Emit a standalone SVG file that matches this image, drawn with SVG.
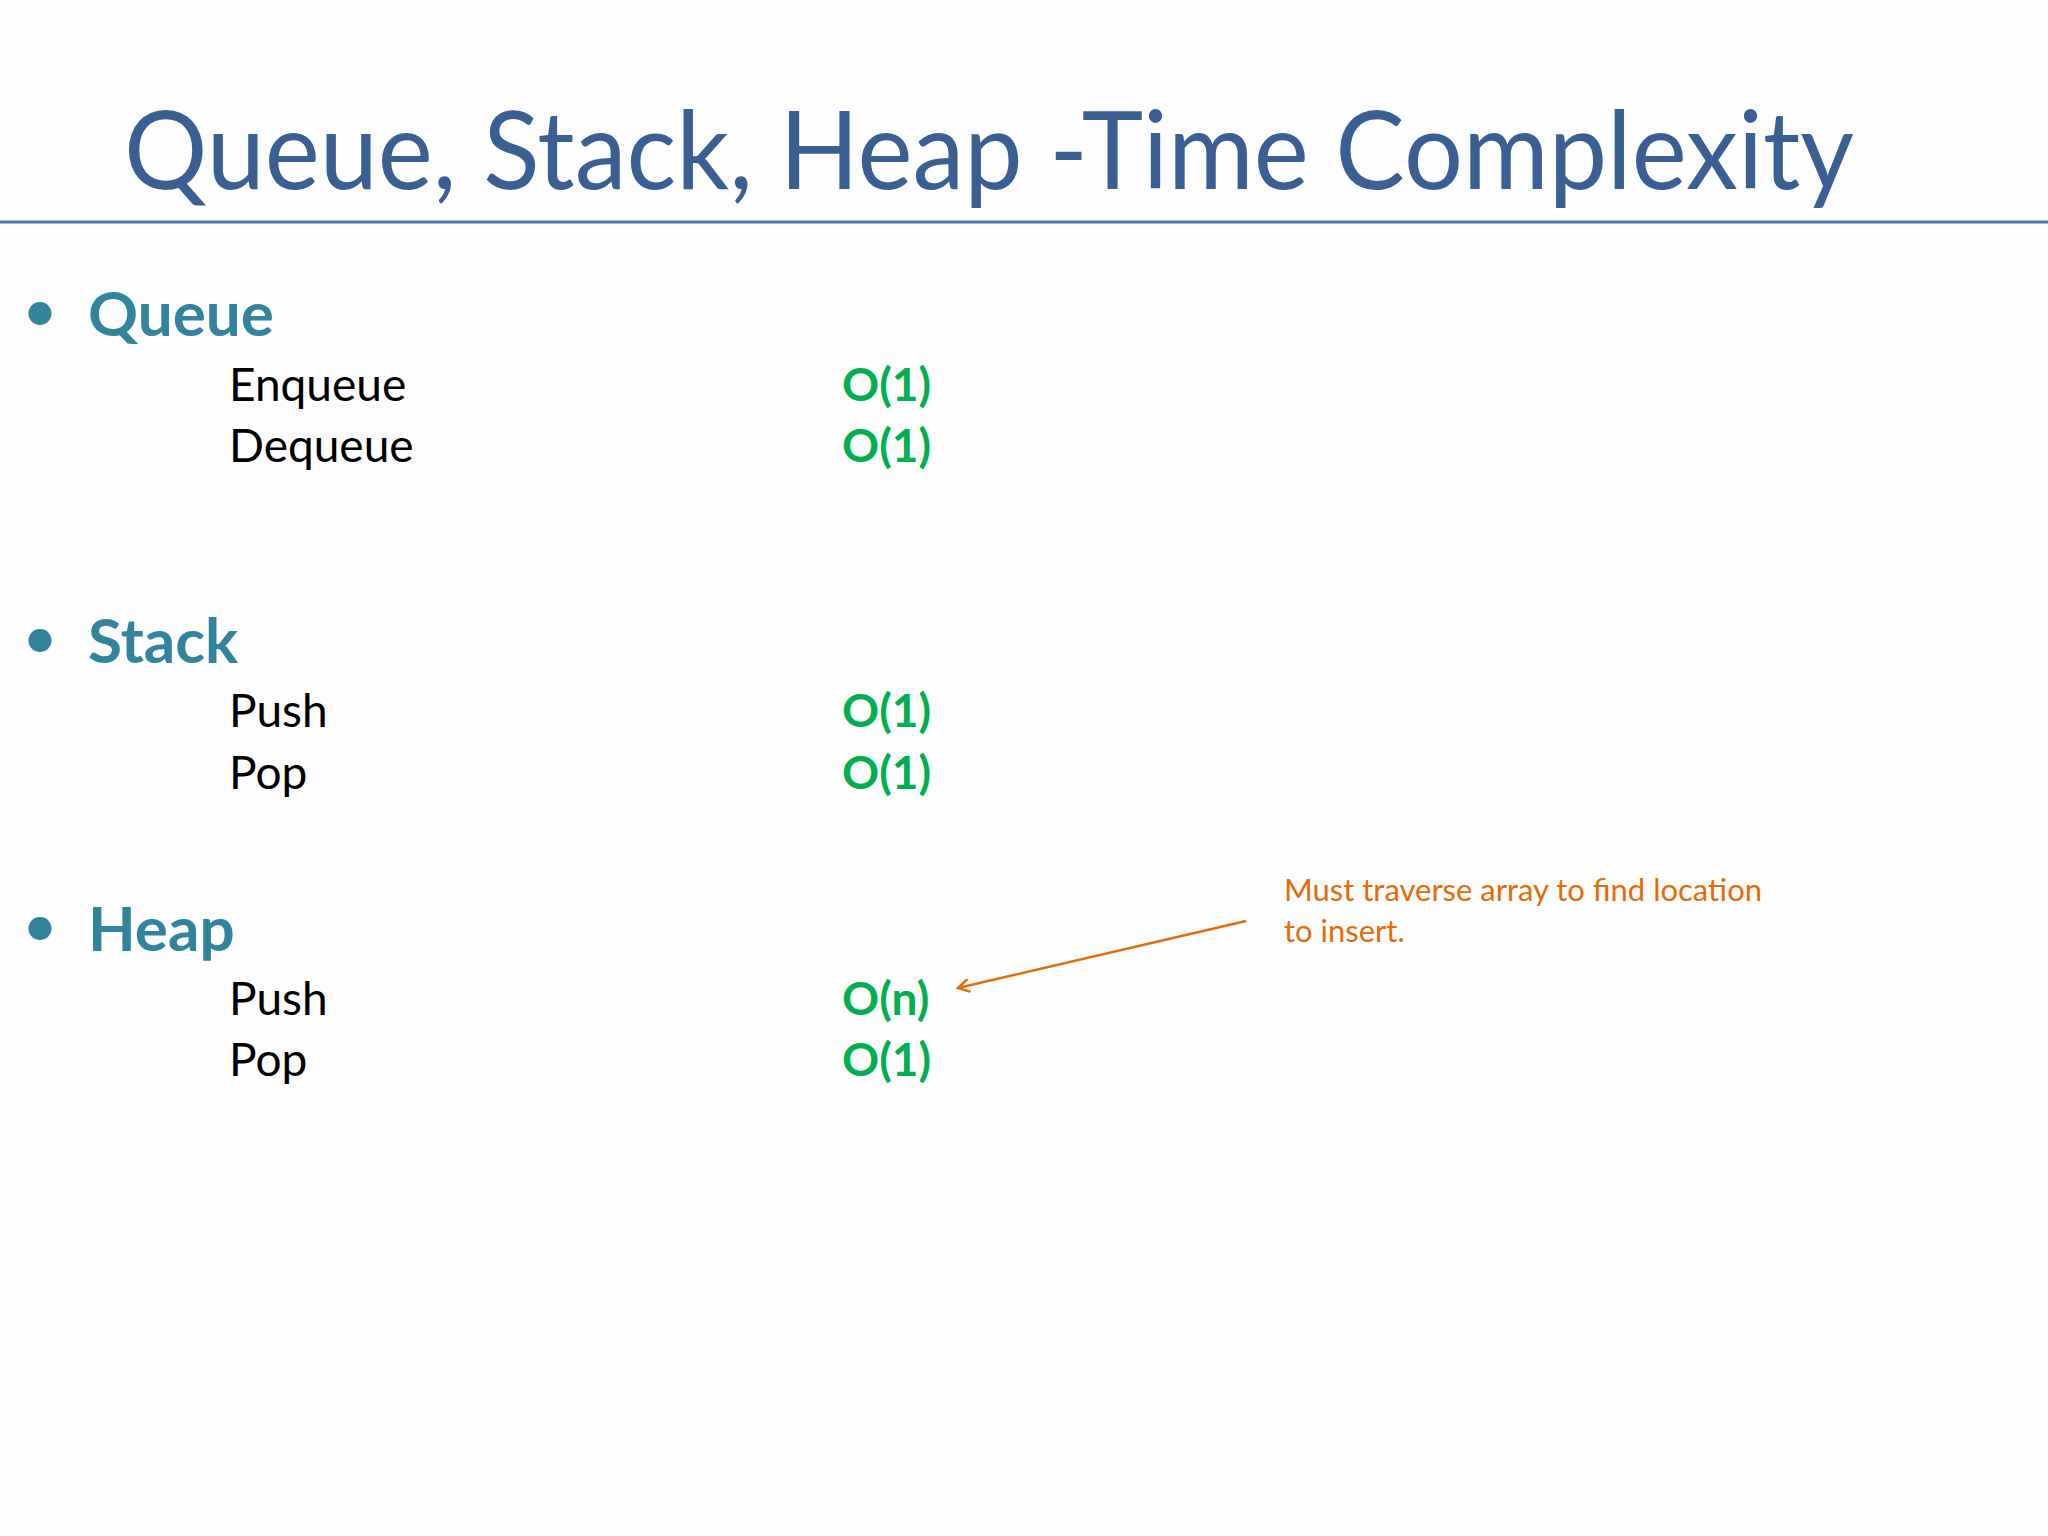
<svg xmlns="http://www.w3.org/2000/svg" width="2048" height="1536" viewBox="0 0 2048 1536">
<style>
.h{font-family:Lato,"Open Sans",sans-serif;font-weight:bold;font-size:62px;fill:#31849b}
.b{font-family:Lato,"Open Sans",sans-serif;font-size:62px;fill:#31849b}
.i{font-family:Lato,"Open Sans",sans-serif;font-size:46px;fill:#000}
.o{font-family:Lato,"Open Sans",sans-serif;font-weight:bold;font-size:46px;fill:#00b050}
.n{font-family:Lato,"Open Sans",sans-serif;font-size:31px;fill:#e36c09}
</style>
<defs><marker id="a" markerWidth="14" markerHeight="14" refX="12" refY="7" orient="auto" markerUnits="userSpaceOnUse"><path d="M0,0 L12,7 L0,14" fill="none" stroke="#e36c09" stroke-width="2.5"/></marker></defs>
<rect width="2048" height="1536" fill="#fdfdfd"/>
<g id="title"><text x="124" y="189" font-family="Lato,'Open Sans',sans-serif" font-size="108" fill="#3a5f93" textLength="1730" lengthAdjust="spacingAndGlyphs">Queue, Stack, Heap -Time Complexity</text>
<line x1="0" y1="222" x2="2048" y2="222" stroke="#4a76b0" stroke-width="3"/></g>
<g id="queue"><text class="b" x="22" y="332">•</text><text class="h" x="88" y="336">Queue</text>
<text class="i" x="229" y="401">Enqueue</text><text class="o" x="842" y="401">O(1)</text>
<text class="i" x="229" y="462">Dequeue</text><text class="o" x="842" y="462">O(1)</text></g>
<g id="stack"><text class="b" x="22" y="659">•</text><text class="h" x="88" y="663">Stack</text>
<text class="i" x="229" y="727">Push</text><text class="o" x="842" y="727">O(1)</text>
<text class="i" x="229" y="789">Pop</text><text class="o" x="842" y="789">O(1)</text></g>
<g id="heap"><text class="b" x="22" y="947">•</text><text class="h" x="88" y="951">Heap</text>
<text class="i" x="229" y="1015">Push</text><text class="o" x="842" y="1015">O(n)</text>
<text class="i" x="229" y="1076">Pop</text><text class="o" x="842" y="1076">O(1)</text></g>
<g id="note"><text class="n" x="1284" y="901">Must traverse array to find location</text><text class="n" x="1284" y="942">to insert.</text></g>
<g id="connectors"><line x1="1246" y1="921" x2="958" y2="988" stroke="#e36c09" stroke-width="2.5" marker-end="url(#a)"/></g>
</svg>
